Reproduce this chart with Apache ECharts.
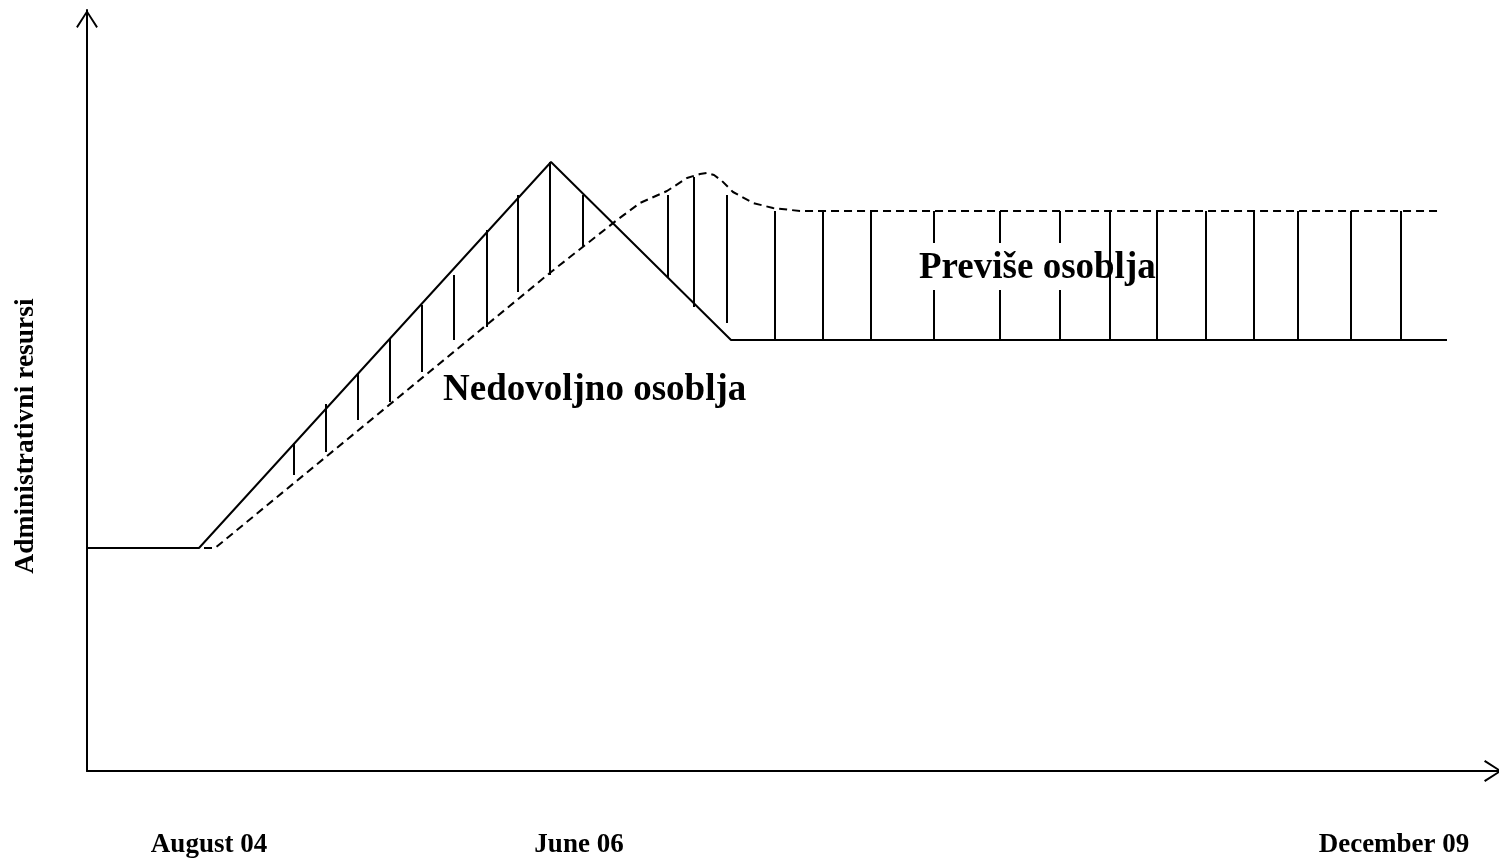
<!DOCTYPE html>
<html>
<head>
<meta charset="utf-8">
<script src="https://cdn.jsdelivr.net/npm/echarts@6/dist/echarts.min.js"></script>
<style>html,body{margin:0;padding:0;background:#fff}#c{width:1499px;height:859px}</style>
</head>
<body>
<div id="c"></div>
<script>
// x and y in arbitrary chart units
const requiredX = [0, 112, 464, 644, 1360];
const requiredY = [223, 223, 609, 431, 431];
const staffX = [0, 128, 464, 530, 553, 580, 600, 613, 620, 627, 635, 646, 666, 686, 713, 1355];
const staffY = [223, 223, 499, 551, 568, 580, 593, 597, 598, 596, 590, 579, 568, 563, 560, 560];
// hatch lines: x, lower end, upper end
const hatchX    = [207, 239, 271, 303, 335, 367, 400, 431, 463, 496, 581, 607, 640, 688, 736, 784, 847, 847, 913, 913, 973, 973, 1023, 1070, 1119, 1167, 1211, 1264, 1314];
const hatchLow  = [296, 319, 351, 369, 399, 431, 444, 479, 496, 525, 494, 464, 448, 431, 431, 431, 528, 431, 528, 431, 528, 431, 431, 431, 431, 431, 431, 431, 431];
const hatchHigh = [328, 367, 398, 432, 466, 496, 541, 576, 609, 576, 576, 594, 576, 560, 560, 560, 560, 481, 560, 481, 560, 481, 560, 560, 560, 560, 560, 560, 560];
const tickValues = [122, 492, 1307];
const tickLabels = ['August 04', 'June 06', 'December 09'];
const yName = 'Administrativni resursi';
const labelUnder = 'Nedovoljno osoblja';
const labelOver = 'Previše osoblja';

const FONT = '"Liberation Serif", "Times New Roman", serif';
const chevron = 'path://M11,0 L22,17 L20.4,18.2 L11,3.2 L1.6,18.2 L0,17 Z';

const chart = echarts.init(document.getElementById('c'), null, {renderer: 'canvas'});
chart.setOption({
  animation: false,
  backgroundColor: '#fff',
  grid: {left: 87, right: 0, top: 10, bottom: 88, containLabel: false},
  xAxis: {
    type: 'value', min: 0, max: 1412,
    axisLine: {show: true, onZero: false, lineStyle: {color: '#000', width: 2},
      symbol: ['none', chevron], symbolSize: [22, 18], symbolOffset: [0, -6]},
    axisTick: {show: false},
    splitLine: {show: false},
    axisLabel: {
      customValues: tickValues,
      formatter: v => tickLabels[tickValues.indexOf(v)] || '',
      margin: 61, color: '#000', fontFamily: FONT, fontWeight: 'bold', fontSize: 27
    }
  },
  yAxis: {
    type: 'value', min: 0, max: 761,
    axisLine: {show: true, onZero: false, lineStyle: {color: '#000', width: 2},
      symbol: ['none', chevron], symbolSize: [22, 18], symbolOffset: [0, -9]},
    axisTick: {show: false},
    splitLine: {show: false},
    axisLabel: {show: false}
  },
  graphic: [
    {type: 'text', x: 26, y: 436, rotation: Math.PI / 2,
      style: {text: yName, fill: '#000', font: 'bold 27.5px ' + FONT, align: 'center', verticalAlign: 'middle'}},
    {type: 'text', x: 443, y: 390,
      style: {text: labelUnder, fill: '#000', font: 'bold 37px ' + FONT, align: 'left', verticalAlign: 'middle'}},
    {type: 'text', x: 919, y: 268,
      style: {text: labelOver, fill: '#000', font: 'bold 37px ' + FONT, align: 'left', verticalAlign: 'middle'}}
  ],
  series: [
    {
      type: 'custom',
      coordinateSystem: 'cartesian2d',
      data: hatchX.map((x, i) => [x, hatchLow[i], hatchHigh[i]]),
      encode: {x: 0, y: [1, 2]},
      renderItem: function (params, api) {
        const a = api.coord([api.value(0), api.value(1)]);
        const b = api.coord([api.value(0), api.value(2)]);
        return {type: 'line', shape: {x1: a[0], y1: a[1], x2: b[0], y2: b[1]},
          style: {stroke: '#000', lineWidth: 2}};
      },
      z: 3
    },
    {
      type: 'line', name: 'staff',
      data: staffX.map((x, i) => [x, staffY[i]]),
      symbol: 'none',
      lineStyle: {color: '#000', width: 2, type: [8, 5]},
      z: 4
    },
    {
      type: 'line', name: 'required',
      data: requiredX.map((x, i) => [x, requiredY[i]]),
      symbol: 'none',
      lineStyle: {color: '#000', width: 2},
      z: 5
    }
  ]
});
</script>
</body>
</html>
